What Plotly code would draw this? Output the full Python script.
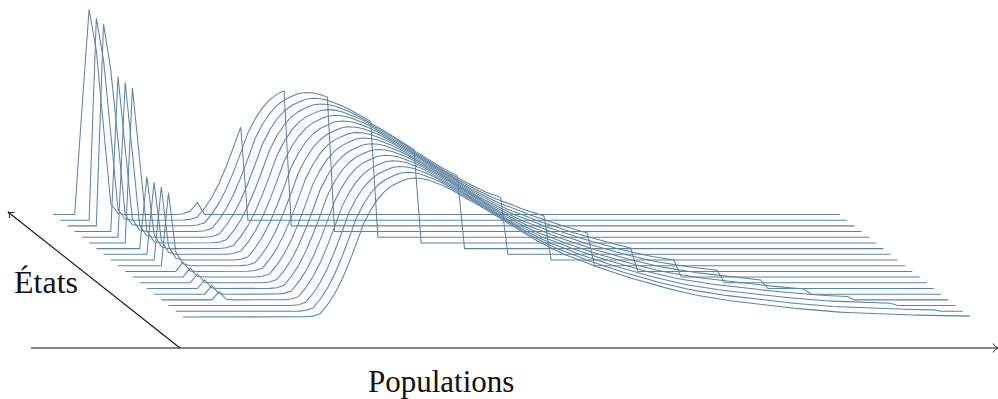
import plotly.graph_objects as go

# population grid
n_points = 110
state_ids = list(range(19))

# shared tall hump, population index 17..109 (heights)
hump_start = 17
hump_heights = [
    0.1, 0.8, 3.2, 12, 23, 37, 54, 73, 93, 107,
    118, 126, 131.5, 135, 138, 139, 138.5, 137, 134.5, 131.5,
    128, 124, 120, 116, 111.5, 107, 102.5, 98, 93.5, 89,
    85, 80.5, 76.5, 72.5, 69, 65.5, 62, 59.5, 57, 54,
    51, 48.5, 46, 44, 41.5, 39, 37, 34.8, 32.7, 30.8,
    28.8, 27, 25.2, 23.4, 22, 20.6, 19.3, 18.1, 17, 16,
    15.1, 14.2, 13.4, 12.6, 11.8, 11, 10.2, 9.3, 8.5, 7.8,
    7.1, 6.4, 5.8, 5.2, 4.8, 4.4, 4.05, 3.7, 3.4, 3.1,
    2.85, 2.6, 2.4, 2.2, 2.0, 1.8, 1.65, 1.5, 1.35, 1.2,
    1.05, 0.9, 0.8,
]
# last population index of the hump in each state (None = not truncated)
hump_cut = [20, 25, 30, 35, 40, 45, 50, 55, 60, 65,
            70, 75, 80, 85, 90, 95, 100, 105, None]

# low-population spike of each state: first index, then heights
spike_start = [4, 5, 5, 6, 6, 6, 7, 7, 7, 7, 8, 8, 8, 8, 8, 8, None, None, None]
spike_heights = [
    [105, 205, 164, 88, 11, 1],
    [202, 160, 87, 11, 1],
    [202, 156, 86, 11, 1],
    [155, 85, 12, 1.5],
    [155, 85, 12, 1.5],
    [155, 85, 12, 1.5],
    [72, 14, 2],
    [72, 14, 2],
    [73, 14, 2],
    [73, 14, 2],
    [9.4, 0.5],
    [9, 0.5],
    [8.8, 0.5],
    [8.5, 0.5],
    [8.5, 0.5],
    [8.3, 0.5],
    [],
    [],
    [],
]

# layout in pixels of the 998x399 canvas
W, H = 998, 399
x_origin, x_step = 53.0, 7.22
y_origin, y_step = 214.5, 5.69
line_color = "#5f84a0"
ink = "#111111"

fig = go.Figure()
for k in state_ids:
    h = [0.0] * n_points
    if spike_start[k] is not None:
        for i, v in enumerate(spike_heights[k]):
            h[spike_start[k] + i] = v
    end = hump_cut[k] if hump_cut[k] is not None else n_points - 1
    for j in range(hump_start, end + 1):
        h[j] = hump_heights[j - hump_start]
    fig.add_trace(go.Scatter(
        x=[j + k for j in range(n_points)],
        y=[v - k * y_step for v in h],
        mode="lines",
        line=dict(color=line_color, width=1.05),
        hoverinfo="skip",
        showlegend=False,
    ))


def px(x):
    return x / W


def py(y):
    return 1 - y / H


def path(points):
    d = ""
    for cmd, pts in points:
        d += cmd + " ".join(f"{px(a):.5f},{py(b):.5f}" for a, b in pts)
    return d


shapes = []
for a, b, c, d in [(31, 348, 997.5, 348), (180, 348, 8, 212)]:
    shapes.append(dict(type="line", xref="paper", yref="paper",
                       x0=px(a), y0=py(b), x1=px(c), y1=py(d),
                       line=dict(color=ink, width=1.1)))
shapes.append(dict(type="path", xref="paper", yref="paper",
                   path=path([("M", [(993, 343.5)]), ("Q", [(995, 347), (998, 348)]),
                              ("Q", [(995, 349), (993, 352.5)])]),
                   line=dict(color=ink, width=0.9)))
shapes.append(dict(type="path", xref="paper", yref="paper",
                   path=path([("M", [(9.5, 218)]), ("Q", [(10, 214), (8, 212)]),
                              ("Q", [(10.5, 213), (14.5, 212.5)])]),
                   line=dict(color=ink, width=0.9)))

serif = "Liberation Serif, DejaVu Serif, serif"
fig.update_layout(
    width=W, height=H,
    margin=dict(l=0, r=0, t=0, b=0),
    paper_bgcolor="white", plot_bgcolor="white",
    showlegend=False,
    shapes=shapes,
    xaxis=dict(range=[-x_origin / x_step, (W - x_origin) / x_step],
               visible=False, fixedrange=True),
    yaxis=dict(range=[y_origin - H, y_origin],
               visible=False, fixedrange=True),
    annotations=[
        dict(text="Populations", x=px(440.5), y=py(381), xref="paper", yref="paper",
             xanchor="center", yanchor="middle",
             showarrow=False, font=dict(family=serif, size=31, color=ink)),
        dict(text="États", x=px(45.5), y=py(282), xref="paper", yref="paper",
             xanchor="center", yanchor="middle",
             showarrow=False, font=dict(family=serif, size=32, color=ink)),
    ],
)
fig.write_html("out.html", post_script="document.body.style.margin='0';",
               config={"displayModeBar": False})
